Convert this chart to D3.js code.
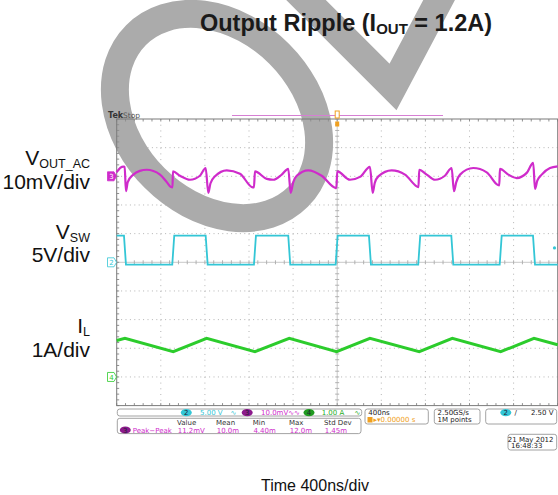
<!DOCTYPE html>
<html>
<meta charset="utf-8">
<style>
body { margin: 0; background: #fff; }
svg { display: block; font-family: "Liberation Sans", Arial, sans-serif; }
.tek text { font-family: "DejaVu Sans", sans-serif; font-size: 7px; }
</style>
<body>
<script src="https://cdn.jsdelivr.net/npm/d3@7/dist/d3.min.js"></script>
<script>

// scope settings (10 x 10 divisions)
var timePerDiv = 400;           // ns/div
var vOutPerDiv = 10;            // mV/div, ch3
var vSwPerDiv = 5;              // V/div, ch2
var iLPerDiv = 1;               // A/div, ch4
var vOutOffset = 3, vSwOffset = 0, iLOffset = -4;   // marker position, div from centre

// traces: [time ns, value]
var vOutAc = [
  [0, 1.4], [5, 1.7], [60, 3.4], [72, 3.3], [84, -5.2], [100, -2.0], [151, 0.6], [210, 1.9],
  [272, 2.3], [393, 0.6], [450, -1.8], [490, -3.7], [506, -3.9], [510, 1.7], [574, 0.2],
  [665, -1.2], [755, 0.2], [807, 2.9], [831, -5.8], [850, -2.5], [892, 0], [998, 2.1],
  [1118, 0.9], [1224, -3.7], [1245, -3.9], [1254, 1.7], [1361, -0.9], [1420, -1.2],
  [1497, 0.6], [1556, 2.6], [1578, -5.8], [1600, -2.2], [1633, 0.2], [1738, 2.1], [1859, 0.2],
  [1980, -4.0], [1992, -4.1], [2001, 1.7], [2116, -1.2], [2207, -0.2], [2297, 3.3],
  [2322, -5.8], [2340, -2.4], [2373, 0], [2494, 2.1], [2615, 0.6], [2721, -3.5], [2737, -3.8],
  [2744, 2.3], [2812, 0.6], [2887, -1.2], [2977, 0.2], [3038, 2.9], [3059, -5.2], [3080, -2.0],
  [3114, 0.6], [3234, 2.9], [3356, 1.4], [3452, -2.9], [3470, -3.2], [3476, 2.6], [3552, 0.6],
  [3628, -0.6], [3719, 1.2], [3778, 4.7], [3794, -4.4], [3815, -1.5], [3855, 0.6], [3930, 2.9],
  [4000, 3.5]
];

var vSw = [
  [0, 4.65], [66, 4.65], [84, -0.4], [504, -0.4], [522, 4.65], [807, 4.65], [825, -0.4],
  [1245, -0.4], [1263, 4.65], [1556, 4.65], [1574, -0.4], [1986, -0.4], [2004, 4.65],
  [2288, 4.65], [2306, -0.4], [2735, -0.4], [2753, 4.65], [3035, 4.65], [3053, -0.4],
  [3474, -0.4], [3492, 4.65], [3776, 4.65], [3794, -0.4], [4000, -0.4]
];

var iL = [
  [0, 1.27], [75, 1.35], [513, 0.88], [816, 1.35], [1254, 0.88], [1565, 1.35], [1995, 0.88],
  [2297, 1.35], [2744, 0.88], [3044, 1.35], [3483, 0.88], [3785, 1.35], [4000, 1.12]
];

var sideLabels = [
  {main: "V", sub: "OUT_AC", scale: "10mV/div"},
  {main: "V", sub: "SW", scale: "5V/div"},
  {main: "I", sub: "L", scale: "1A/div"}
];
var measHeaders = ["Value", "Mean", "Min", "Max", "Std Dev"];
var measValues = ["11.2mV", "10.0m", "4.40m", "12.0m", "1.45m"];

var width = 558, height = 495;
var magenta = "#cf2bcb", cyan = "#33c6d6", green = "#2ccc2c", orange = "#f0a020";

var svg = d3.select("body").append("svg")
    .attr("width", width)
    .attr("height", height);

var x = d3.scaleLinear().domain([0, 10 * timePerDiv]).range([116.7, 557.7]);
var y = d3.scaleLinear().domain([-5, 5]).range([405.6, 119]);

// graticule dots
var grid = svg.append("g");
d3.range(1, 10).forEach(function(k) {
  if (k == 5) return;
  grid.append("line")
    .attr("x1", x(k * timePerDiv)).attr("x2", x(k * timePerDiv))
    .attr("y1", y(5)).attr("y2", y(-5))
    .attr("stroke", "#b4b4b4").attr("stroke-dasharray", "1,4.73");
  grid.append("line")
    .attr("x1", x(0)).attr("x2", x(10 * timePerDiv))
    .attr("y1", y(k - 5)).attr("y2", y(k - 5))
    .attr("stroke", "#b4b4b4").attr("stroke-dasharray", "1,3.4");
});

// watermark
var mark = svg.append("g").attr("fill", "none").attr("stroke", "#ababab").attr("stroke-width", 28);
mark.append("ellipse")
  .attr("cx", 217).attr("cy", 116).attr("rx", 114.5).attr("ry", 88)
  .attr("transform", "rotate(45,217,116)");
mark.append("path")
  .attr("d", "M293,-13 L393,87 L446,-13")
  .attr("stroke-linejoin", "miter");

// centre cross + border with minor ticks
var frame = svg.append("g").attr("class", "tek");
frame.append("line").attr("x1", x(0)).attr("x2", x(4000)).attr("y1", y(0)).attr("y2", y(0))
  .attr("stroke", "#c8c8c8");
frame.append("line").attr("x1", x(2000)).attr("x2", x(2000)).attr("y1", y(5)).attr("y2", y(-5))
  .attr("stroke", "#c8c8c8");
d3.range(0, 4000.1, timePerDiv / 5).forEach(function(t) {
  frame.append("line").attr("x1", x(t)).attr("x2", x(t)).attr("y1", y(0) - 2).attr("y2", y(0) + 2).attr("stroke", "#b0b0b0");
  frame.append("line").attr("x1", x(t)).attr("x2", x(t)).attr("y1", y(-5)).attr("y2", y(-5) - 2.5).attr("stroke", "#909090");
  frame.append("line").attr("x1", x(t)).attr("x2", x(t)).attr("y1", y(5)).attr("y2", y(5) + 2.5).attr("stroke", "#909090");
});
d3.range(-5, 5.01, 0.2).forEach(function(d) {
  frame.append("line").attr("x1", x(2000) - 2).attr("x2", x(2000) + 2).attr("y1", y(d)).attr("y2", y(d)).attr("stroke", "#b0b0b0");
  frame.append("line").attr("x1", x(0)).attr("x2", x(0) + 2.5).attr("y1", y(d)).attr("y2", y(d)).attr("stroke", "#909090");
});
frame.append("rect")
  .attr("x", x(0)).attr("y", y(5))
  .attr("width", x(4000) - x(0)).attr("height", y(-5) - y(5))
  .attr("fill", "none").attr("stroke", "#7a7a7a");

// record bar, trigger marks, Tek Stop
frame.append("line").attr("x1", 232).attr("x2", 443).attr("y1", 115.5).attr("y2", 115.5)
  .attr("stroke", "#d67fd3");
frame.append("rect").attr("x", x(2000) - 2).attr("y", 111).attr("width", 4).attr("height", 7)
  .attr("fill", "#fff").attr("stroke", orange);
frame.append("rect").attr("x", x(2000) - 2).attr("y", 121.5).attr("width", 4).attr("height", 5)
  .attr("fill", orange);
frame.append("text").attr("x", 108).attr("y", 118).attr("fill", "#333")
  .style("font-size", "8px").style("font-weight", "bold").text("Tek");
frame.append("text").attr("x", 123).attr("y", 118).attr("fill", "#555")
  .style("font-size", "7.5px").text("Stop");

// traces
function trace(data, perDiv, offset, curve) {
  return d3.line()
    .x(function(d) { return x(d[0]); })
    .y(function(d) { return y(offset + d[1] / perDiv); })
    .curve(curve)(data);
}
svg.append("path").attr("d", trace(iL, iLPerDiv, iLOffset, d3.curveLinear))
  .attr("fill", "none").attr("stroke", green).attr("stroke-width", 3);
svg.append("path").attr("d", trace(vSw, vSwPerDiv, vSwOffset, d3.curveLinear))
  .attr("fill", "none").attr("stroke", cyan).attr("stroke-width", 1.8);
svg.append("path").attr("d", trace(vOutAc, vOutPerDiv, vOutOffset, d3.curveMonotoneX))
  .attr("fill", "none").attr("stroke", magenta).attr("stroke-width", 2.2);

// channel ground markers
function marker(offset, label, col, filled) {
  var yy = y(offset);
  var g = svg.append("g").attr("class", "tek");
  g.append("path")
    .attr("d", "M107.5," + (yy - 4.5) + "h6.5l2.5,4.5l-2.5,4.5h-6.5z")
    .attr("fill", filled ? col : "#fff").attr("stroke", col).attr("stroke-width", 0.8);
  g.append("text").attr("x", 111.5).attr("y", yy + 2.6).attr("text-anchor", "middle")
    .attr("fill", filled ? "#fff" : col).style("font-size", "7px").text(label);
}
marker(vOutOffset, "3", magenta, true);
marker(vSwOffset, "2", cyan, false);
marker(iLOffset, "4", green, false);
svg.append("circle").attr("cx", 554.5).attr("cy", y(vSwOffset + 2.5 / vSwPerDiv)).attr("r", 1.6).attr("fill", cyan);

// side labels
var labelY = [[165, 189.3], [239, 262], [333, 357]];
sideLabels.forEach(function(l, i) {
  var t = svg.append("text").attr("x", 90).attr("y", labelY[i][0]).attr("text-anchor", "end")
    .style("font-size", "21px").attr("fill", "#111");
  t.append("tspan").text(l.main);
  t.append("tspan").attr("dy", 2.5).style("font-size", "12.5px").text(l.sub);
  svg.append("text").attr("x", 90).attr("y", labelY[i][1]).attr("text-anchor", "end")
    .style("font-size", "21px").attr("fill", "#111").text(l.scale);
});

// title
var title = svg.append("text").attr("x", 346).attr("y", 30.7).attr("text-anchor", "middle")
  .style("font-size", "23.5px").style("font-weight", "bold").attr("fill", "#1a1a1a");
title.append("tspan").text("Output Ripple (I");
title.append("tspan").attr("dy", 3).style("font-size", "15px").text("OUT");
title.append("tspan").attr("dy", -3).text(" = 1.2A)");

svg.append("text").attr("x", 315).attr("y", 491).attr("text-anchor", "middle")
  .style("font-size", "16px").attr("fill", "#111").text("Time 400ns/div");

// readout panel
var panel = svg.append("g").attr("class", "tek");
function box(x0, y0, w, h) {
  panel.append("rect").attr("x", x0).attr("y", y0).attr("width", w).attr("height", h)
    .attr("rx", 2.5).attr("fill", "#fff").attr("stroke", "#8c8c8c").attr("stroke-width", 0.8);
}
function badge(cx, cy, label, col) {
  panel.append("ellipse").attr("cx", cx).attr("cy", cy).attr("rx", 5.5).attr("ry", 3.6).attr("fill", col);
  panel.append("text").attr("x", cx).attr("y", cy + 2.5).attr("text-anchor", "middle")
    .attr("fill", "#223").text(label);
}
function txt(x0, y0, s, col, anchor) {
  return panel.append("text").attr("x", x0).attr("y", y0).attr("fill", col)
    .attr("text-anchor", anchor || "start").text(s);
}
box(117.3, 409, 244.4, 7);
box(117.3, 418.3, 243.7, 15.3);
box(365, 409, 63.3, 15);
box(434.3, 409, 45.7, 15);
box(485.7, 409, 71, 15);
box(508, 434.3, 48.7, 15.7);

badge(186.3, 412.6, "2", cyan);
txt(200, 415.2, "5.00 V", cyan);
txt(230.5, 415.2, "∿", cyan);
badge(247.2, 412.6, "3", "#8c1a8c");
txt(261, 415.2, "10.0mV∿∿", magenta);
badge(309, 412.6, "4", "#1f9a1f");
txt(321.7, 415.2, "1.00 A", "#1fae1f");
txt(354.5, 415.2, "∿", "#1fae1f");

var colX = [177, 216, 252.7, 289, 324];
measHeaders.forEach(function(h, i) { txt(colX[i], 425, h, "#333"); });
badge(125.3, 430, "3", "#8c1a8c");
txt(132.7, 432.6, "Peak\u2212Peak", magenta);
measValues.forEach(function(v, i) { txt(colX[i] + 0.7, 432.6, v, magenta); });

txt(368.3, 415, "400ns", "#222");
panel.append("rect").attr("x", 367.5).attr("y", 417).attr("width", 5).attr("height", 5.5).attr("fill", orange);
txt(373.5, 422.3, "▸▾0.00000 s", orange);
txt(437.5, 415, "2.50GS/s", "#222");
txt(437.5, 422.3, "1M points", "#222");
badge(505.8, 412.6, "2", cyan);
txt(514.5, 415.2, "/", "#222");
txt(553.5, 415.2, "2.50 V", "#222", "end");
txt(553.5, 441.5, "21 May 2012", "#222", "end");
txt(511, 448.3, "16:48:33", "#222");

</script>
</body>
</html>
